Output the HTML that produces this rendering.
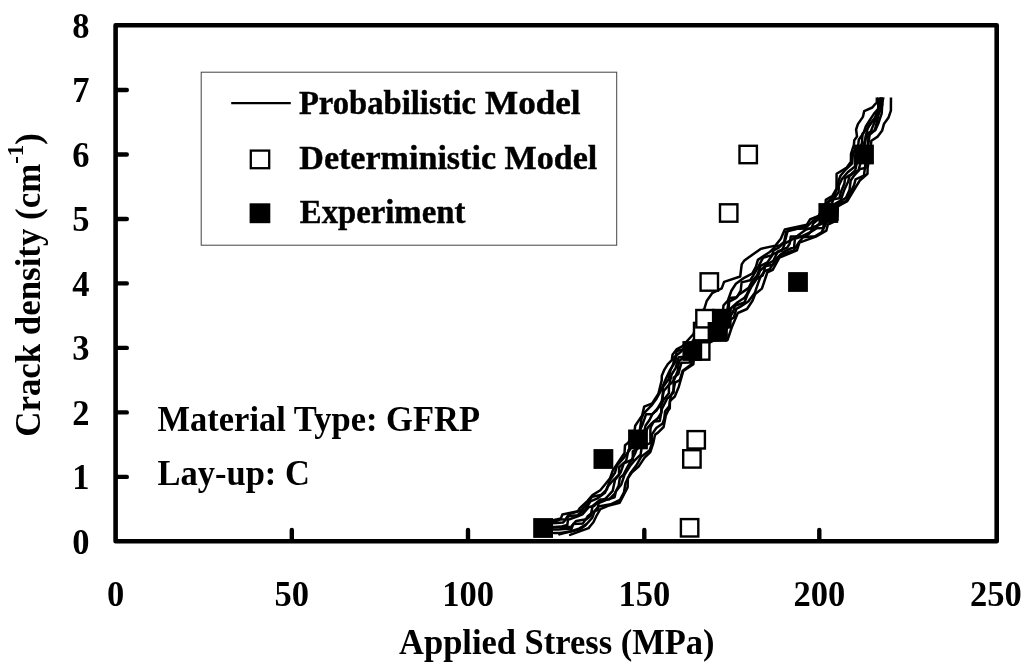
<!DOCTYPE html>
<html><head><meta charset="utf-8"><title>Crack density vs applied stress</title>
<style>
html,body{margin:0;padding:0;background:#fff;}
body{width:1024px;height:669px;overflow:hidden;}
svg{display:block;will-change:transform;filter:grayscale(1);}
text{font-family:"Liberation Serif",serif;font-weight:bold;fill:#000;}
</style></head><body>
<svg width="1024" height="669" viewBox="0 0 1024 669">
<rect x="0" y="0" width="1024" height="669" fill="#fff"/>
<clipPath id="cp"><rect x="540" y="97.6" width="380" height="445"/></clipPath>
<g clip-path="url(#cp)" fill="none" stroke="#000" stroke-width="2.5" stroke-linejoin="round" stroke-linecap="round">
<path d="M548.0 521.0 L553.0 520.3 L560.9 518.4 L562.4 514.5 L577.9 511.1 L579.8 508.2 L587.6 500.9 L592.5 495.1 L600.3 490.2 L604.6 485.0 L610.0 478.3 L612.8 470.5 L624.5 453.0 L625.0 445.3 L628.2 442.8 L634.7 429.7 L635.2 425.8 L642.2 415.4 L644.2 406.6 L652.3 403.3 L658.4 393.8 L661.7 380.4 L661.8 375.7 L664.4 369.6 L667.8 364.2 L671.8 360.2 L672.5 354.8 L676.5 349.4 L682.6 346.1 L688.0 340.0 L693.5 334.0 L697.0 322.0 L701.0 312.0 L704.3 308.8 L706.7 301.0 L712.1 293.2 L721.7 288.4 L724.1 281.9 L740.2 276.5 L741.7 264.4 L744.4 260.4 L760.6 248.9 L775.4 245.6 L780.8 238.8 L784.8 229.4 L806.9 224.7 L809.9 219.5 L818.6 215.8 L825.6 203.0 L825.8 199.8 L832.5 195.7 L836.5 188.6 L836.6 173.8 L846.4 167.9 L850.9 161.7 L851.0 153.8 L853.9 144.8 L854.3 140.2 L857.0 136.6 L856.1 129.5 L857.9 124.1 L862.9 116.9 L864.2 111.1 L872.3 107.5 L875.0 104.3 L876.8 102.6 L876.9 90.0"/>
<path d="M570.1 534.9 L588.6 528.1 L590.5 525.7 L593.4 522.3 L596.4 516.0 L600.3 509.2 L608.0 505.8 L619.7 502.8 L627.6 487.4 L627.9 478.3 L631.8 472.5 L638.6 466.6 L644.4 457.9 L650.3 452.0 L653.2 443.3 L655.1 434.6 L658.0 432.6 L663.6 427.0 L665.8 415.4 L668.0 410.9 L669.8 408.2 L669.9 401.0 L674.8 396.5 L678.8 386.7 L683.3 371.0 L693.4 364.2 L693.6 360.9 L703.0 352.0 L709.0 343.0 L714.0 340.5 L727.5 340.0 L731.7 327.5 L737.8 313.0 L747.0 309.0 L752.5 300.8 L755.2 294.0 L761.9 288.6 L767.3 272.5 L772.7 269.8 L779.4 257.7 L796.9 250.3 L799.4 242.7 L815.9 236.7 L826.3 230.7 L827.8 224.7 L837.5 220.2 L837.7 206.5 L847.3 201.1 L852.7 192.2 L859.8 180.5 L867.5 173.8 L867.6 167.9 L868.2 164.2 L869.5 150.0 L870.9 144.7 L871.4 140.7 L877.7 136.6 L882.2 130.4 L883.9 124.1 L888.4 117.8 L890.9 110.6 L891.0 90.0"/>
<path d="M559.4 534.4 L570.1 531.5 L579.0 528.6 L586.0 524.5"/>
<path d="M548.8 522.8 L551.7 522.8 L559.9 519.5 L565.7 519.2 L568.9 514.1 L580.6 510.8 L587.2 503.8 L592.0 496.9 L601.5 494.7 L606.9 489.4 L609.8 480.2 L615.0 472.7 L616.9 465.8 L623.3 458.4 L628.7 451.3 L633.8 444.1 L636.7 437.3 L639.8 430.5 L641.6 418.3 L643.8 413.3 L651.1 405.9 L656.1 399.3 L659.9 392.5 L662.7 386.2 L666.1 378.3 L670.0 370.1 L675.4 361.8 L676.7 351.0 L687.6 348.2 L693.5 340.0 L698.7 332.8 L707.3 327.8 L710.6 322.6 L720.7 319.0 L722.6 314.1 L723.5 305.3 L727.7 300.9 L731.4 290.7 L735.9 283.7 L743.1 278.4 L752.2 273.6 L755.9 266.8 L757.9 259.9 L764.7 255.3 L769.4 252.3 L775.2 246.6 L780.3 245.3 L785.0 241.1 L787.9 230.0 L796.8 228.8 L806.7 226.8 L812.3 221.4 L820.7 215.4 L825.5 210.3 L826.3 203.0 L834.2 196.0 L837.1 188.0 L838.8 180.0 L840.6 175.5 L846.0 169.3 L852.1 163.7 L853.0 152.5 L858.2 145.4 L858.8 139.8 L863.7 132.6 L865.8 126.5 L870.2 119.5 L873.9 113.9 L878.2 108.9 L878.3 100.3 L878.3 90.2 L879.4 90.0"/>
<path d="M549.2 523.5 L556.1 523.0 L563.2 522.4 L569.0 516.0 L577.3 515.3 L585.1 509.6 L590.5 501.4 L596.9 498.7 L605.0 492.8 L607.3 487.1 L612.2 481.3 L619.0 474.7 L619.1 467.2 L626.1 460.9 L628.5 450.1 L631.5 445.9 L636.1 437.4 L639.4 431.5 L642.4 424.8 L646.1 414.2 L652.4 414.2 L658.9 407.1 L662.5 400.7 L663.0 387.0 L668.4 379.6 L670.6 369.8 L673.3 364.0 L674.3 356.9 L680.7 352.0 L687.2 345.2 L697.1 341.0 L705.1 334.6 L712.8 328.3 L717.1 326.4 L718.2 320.0 L724.1 313.9 L728.6 308.7 L729.4 298.0 L736.9 297.2 L740.7 290.7 L741.6 282.4 L750.2 280.3 L753.2 275.7 L758.4 266.6 L763.0 257.8 L772.0 255.1 L773.6 250.3 L779.1 247.4 L784.0 242.4 L786.2 231.6 L791.4 230.4 L797.0 228.8 L811.4 228.5 L813.2 223.5 L818.0 219.5 L823.7 216.0 L827.3 208.3 L828.7 202.0 L833.2 199.4 L838.6 192.3 L838.8 185.8 L841.7 179.4 L847.7 172.3 L855.0 166.5 L855.1 156.6 L858.8 149.9 L861.9 143.2 L862.6 133.7 L867.9 128.2 L870.0 123.7 L874.6 118.4 L878.8 108.2 L880.4 95.7 L880.4 90.5 L880.6 90.0 L880.8 90.0"/>
<path d="M552.5 527.5 L561.8 526.5 L567.3 525.0 L568.0 519.7 L577.7 516.4 L582.4 514.3 L589.0 506.9 L594.2 505.9 L597.8 502.5 L605.8 498.4 L612.7 490.8 L615.0 479.9 L620.6 472.5 L623.8 463.3 L632.8 459.5 L632.8 451.4 L638.8 447.9 L638.8 439.4 L643.1 435.8 L645.6 425.5 L649.5 420.0 L652.5 413.9 L656.2 410.9 L661.6 401.5 L663.8 391.0 L669.3 384.3 L671.6 374.5 L675.6 368.2 L678.7 357.2 L685.2 356.8 L691.4 348.8 L697.4 344.8 L699.3 339.0 L704.3 336.2 L708.4 331.5 L720.3 331.2 L722.3 324.5 L726.5 319.0 L727.5 308.8 L728.6 301.9 L735.4 298.4 L739.1 294.5 L744.4 290.9 L748.7 287.9 L752.1 281.0 L757.0 275.7 L760.6 265.9 L767.4 262.4 L772.9 254.2 L781.9 250.5 L784.9 243.4 L790.3 240.6 L797.5 235.7 L805.4 229.9 L811.1 228.0 L816.6 225.8 L824.5 220.0 L828.8 216.0 L830.2 208.5 L833.4 199.2 L839.3 198.3 L841.1 191.4 L844.4 183.5 L845.1 178.1 L851.1 174.2 L855.2 170.4 L857.8 158.4 L858.8 148.5 L863.6 144.8 L865.3 139.5 L867.7 127.8 L874.1 119.6 L879.2 111.8 L880.5 104.5 L881.6 93.6 L881.6 90.0 L881.6 90.0"/>
<path d="M551.5 527.1 L559.7 527.1 L571.0 526.9 L576.2 520.9 L586.4 519.3 L590.6 516.0 L592.6 506.0 L600.4 499.5 L609.2 499.3 L614.8 493.5 L618.7 485.6 L619.8 477.8 L623.4 474.9 L627.8 466.4 L632.5 458.5 L635.3 452.9 L639.3 443.1 L643.6 436.8 L647.6 427.9 L651.9 423.2 L657.8 418.3 L661.3 412.6 L661.3 405.5 L663.1 400.5 L668.9 393.3 L668.9 385.3 L673.8 380.7 L677.6 371.2 L679.0 361.3 L684.1 356.8 L691.2 353.1 L694.0 348.1 L699.5 340.6 L709.6 337.5 L718.6 331.8 L724.0 326.3 L729.7 320.3 L730.4 308.8 L737.6 302.3 L744.5 297.8 L746.9 294.1 L750.7 286.0 L755.6 280.1 L758.3 275.2 L760.1 270.6 L766.2 264.9 L773.3 260.9 L777.8 251.4 L787.2 247.7 L789.7 243.7 L790.7 236.6 L801.8 236.6 L808.3 234.5 L813.8 227.7 L823.0 223.1 L830.8 216.7 L832.3 205.4 L840.6 200.5 L844.1 190.3 L848.2 181.5 L849.5 175.9 L853.5 173.2 L858.4 170.6 L861.1 161.0 L863.3 153.4 L864.5 145.9 L866.0 134.6 L870.7 131.6 L874.3 122.8 L877.3 116.5 L880.3 108.0 L880.7 102.4 L881.2 91.7 L881.3 90.0"/>
<path d="M551.6 529.4 L558.3 529.4 L564.1 528.9 L571.5 528.9 L573.2 524.0 L582.8 523.6 L587.8 516.3 L593.0 511.9 L597.6 510.2 L598.6 503.2 L605.8 500.1 L614.6 497.3 L615.8 491.4 L621.3 484.4 L624.6 474.6 L630.2 465.8 L633.9 461.2 L640.6 454.6 L641.8 446.7 L650.4 443.2 L650.4 429.3 L651.1 426.3 L653.8 421.4 L659.8 420.9 L661.9 409.0 L666.8 399.1 L673.6 392.7 L673.6 377.8 L678.3 374.1 L681.4 362.7 L689.8 362.5 L690.4 356.0 L696.3 353.0 L701.3 343.5 L709.7 339.3 L719.8 335.9 L725.4 327.2 L728.0 320.1 L733.0 312.0 L735.1 305.7 L744.4 302.5 L747.9 293.6 L751.4 286.7 L756.3 279.2 L762.7 275.5 L765.4 266.1 L772.5 265.0 L777.2 257.9 L784.4 251.3 L794.1 247.0 L794.9 238.8 L800.0 237.1 L810.0 232.5 L816.8 228.3 L823.2 228.0 L824.2 220.8 L830.4 219.6 L832.4 210.3 L836.5 206.4 L839.8 201.7 L845.9 197.9 L849.5 190.1 L850.7 180.5 L853.8 176.0 L860.1 168.9 L865.5 168.1 L866.1 160.8 L866.1 153.0 L867.7 147.7 L867.9 136.3 L874.7 130.3 L876.7 123.2 L878.4 114.9 L882.2 105.2 L882.4 92.9 L883.0 90.0 L883.0 90.0"/>
<path d="M553.8 532.9 L560.0 532.9 L571.0 531.6 L580.3 529.2 L584.9 525.8 L592.1 518.0 L594.8 510.8 L598.4 506.5 L610.6 504.3 L620.0 499.9 L624.0 492.3 L625.5 483.0 L630.3 473.3 L636.6 465.1 L641.2 456.7 L649.7 450.2 L651.9 443.7 L651.9 434.4 L656.3 428.0 L662.6 423.6 L664.2 418.9 L665.1 411.3 L669.2 406.3 L671.0 395.4 L673.4 390.8 L675.0 382.7 L679.8 380.1 L682.7 370.7 L691.2 364.4 L692.4 356.3 L698.2 353.3 L703.6 347.9 L708.0 343.1 L712.4 338.9 L726.5 338.9 L726.5 330.4 L729.6 320.2 L733.9 317.4 L736.3 308.9 L740.4 306.6 L748.3 301.5 L754.7 293.1 L758.5 282.1 L760.6 276.6 L765.0 271.0 L769.8 269.3 L772.2 264.9 L776.7 261.2 L780.1 254.9 L784.9 253.3 L793.7 250.4 L799.3 241.8 L803.0 237.3 L814.9 236.3 L821.6 232.4 L825.2 225.1 L828.0 220.4 L836.9 217.5 L838.1 204.5 L846.3 200.8 L850.7 191.9 L854.0 185.4 L855.6 179.4 L863.9 175.6 L865.2 166.0 L866.6 158.2 L868.1 146.5 L869.7 133.5 L875.3 130.2 L878.3 123.5 L881.7 113.4 L882.3 102.5 L884.2 93.6 L884.2 90.0"/>
</g>
<rect x="680.9" y="519.1" width="17.4" height="17.4" fill="#fff" stroke="#000" stroke-width="2.4"/>
<rect x="683.2" y="450.2" width="17.4" height="17.4" fill="#fff" stroke="#000" stroke-width="2.4"/>
<rect x="687.5" y="431.1" width="17.4" height="17.4" fill="#fff" stroke="#000" stroke-width="2.4"/>
<rect x="692.0" y="342.3" width="17.4" height="17.4" fill="#fff" stroke="#000" stroke-width="2.4"/>
<rect x="694.0" y="322.9" width="17.4" height="17.4" fill="#fff" stroke="#000" stroke-width="2.4"/>
<rect x="696.3" y="310.0" width="17.4" height="17.4" fill="#fff" stroke="#000" stroke-width="2.4"/>
<rect x="700.6" y="273.3" width="17.4" height="17.4" fill="#fff" stroke="#000" stroke-width="2.4"/>
<rect x="720.0" y="204.3" width="17.4" height="17.4" fill="#fff" stroke="#000" stroke-width="2.4"/>
<rect x="739.5" y="145.8" width="17.4" height="17.4" fill="#fff" stroke="#000" stroke-width="2.4"/>
<rect x="533.2" y="518.1" width="19.8" height="19.8" fill="#000"/>
<rect x="593.5" y="449.1" width="19.8" height="19.8" fill="#000"/>
<rect x="628.1" y="429.5" width="19.8" height="19.8" fill="#000"/>
<rect x="682.4" y="341.1" width="19.8" height="19.8" fill="#000"/>
<rect x="707.6" y="322.0" width="19.8" height="19.8" fill="#000"/>
<rect x="711.9" y="308.8" width="19.8" height="19.8" fill="#000"/>
<rect x="788.1" y="272.1" width="19.8" height="19.8" fill="#000"/>
<rect x="818.4" y="203.1" width="19.8" height="19.8" fill="#000"/>
<rect x="854.1" y="144.6" width="19.8" height="19.8" fill="#000"/>
<g fill="none" stroke="#000" stroke-linecap="round" stroke-linejoin="round">
<rect x="115.6" y="25.3" width="881.1" height="515.9" stroke-width="4.6"/>
<line x1="116.6" y1="476.9" x2="126.8" y2="476.9" stroke-width="4.4"/>
<line x1="116.6" y1="412.4" x2="126.8" y2="412.4" stroke-width="4.4"/>
<line x1="116.6" y1="347.9" x2="126.8" y2="347.9" stroke-width="4.4"/>
<line x1="116.6" y1="283.4" x2="126.8" y2="283.4" stroke-width="4.4"/>
<line x1="116.6" y1="219.0" x2="126.8" y2="219.0" stroke-width="4.4"/>
<line x1="116.6" y1="154.5" x2="126.8" y2="154.5" stroke-width="4.4"/>
<line x1="116.6" y1="90.0" x2="126.8" y2="90.0" stroke-width="4.4"/>
<line x1="291.8" y1="540.2" x2="291.8" y2="529.9" stroke-width="4.4"/>
<line x1="468.0" y1="540.2" x2="468.0" y2="529.9" stroke-width="4.4"/>
<line x1="644.3" y1="540.2" x2="644.3" y2="529.9" stroke-width="4.4"/>
<line x1="819.3" y1="540.2" x2="819.3" y2="529.9" stroke-width="4.4"/>
</g>
<text transform="translate(80.9 553.7) scale(0.9691 1)" font-size="35.6" text-anchor="middle">0</text>
<text transform="translate(80.9 489.2) scale(0.9691 1)" font-size="35.6" text-anchor="middle">1</text>
<text transform="translate(80.9 424.7) scale(0.9691 1)" font-size="35.6" text-anchor="middle">2</text>
<text transform="translate(80.9 360.2) scale(0.9691 1)" font-size="35.6" text-anchor="middle">3</text>
<text transform="translate(80.9 295.8) scale(0.9691 1)" font-size="35.6" text-anchor="middle">4</text>
<text transform="translate(80.9 231.3) scale(0.9691 1)" font-size="35.6" text-anchor="middle">5</text>
<text transform="translate(80.9 166.8) scale(0.9691 1)" font-size="35.6" text-anchor="middle">6</text>
<text transform="translate(80.9 102.3) scale(0.9691 1)" font-size="35.6" text-anchor="middle">7</text>
<text transform="translate(80.9 37.8) scale(0.9691 1)" font-size="35.6" text-anchor="middle">8</text>
<text transform="translate(115.6 605.7) scale(0.9691 1)" font-size="35.6" text-anchor="middle">0</text>
<text transform="translate(291.8 605.7) scale(0.9691 1)" font-size="35.6" text-anchor="middle">50</text>
<text transform="translate(468.0 605.7) scale(0.9691 1)" font-size="35.6" text-anchor="middle">100</text>
<text transform="translate(644.3 605.7) scale(0.9691 1)" font-size="35.6" text-anchor="middle">150</text>
<text transform="translate(819.3 605.7) scale(0.9691 1)" font-size="35.6" text-anchor="middle">200</text>
<text transform="translate(995.9 605.7) scale(0.9691 1)" font-size="35.6" text-anchor="middle">250</text>
<text transform="translate(556.8 653.5) scale(0.9691 1)" font-size="35.6" text-anchor="middle">Applied Stress (MPa)</text>
<text transform="translate(39.5 284.9) rotate(-90) scale(0.979 1)" font-size="35.6" text-anchor="middle">Crack density (cm<tspan font-size="23.5" dy="-17">-1</tspan><tspan dy="17">)</tspan></text>
<text transform="translate(157.5 431.4) scale(0.9691 1)" font-size="35.6" text-anchor="start">Material Type: GFRP</text>
<text transform="translate(157.5 485.2) scale(0.9691 1)" font-size="35.6" text-anchor="start">Lay-up: C</text>
<rect x="201.2" y="72.2" width="415.5" height="173" fill="#fff" stroke="#444" stroke-width="1"/>
<line x1="231.2" y1="103.1" x2="290.8" y2="103.1" stroke="#000" stroke-width="2.3"/>
<rect x="250.8" y="150.6" width="18.4" height="17.6" fill="#fff" stroke="#000" stroke-width="2.3"/>
<rect x="249.6" y="203.3" width="20.7" height="19.9" fill="#000"/>
<text x="298.9" y="113.5" font-size="34.4" textLength="177.2" lengthAdjust="spacingAndGlyphs" stroke="#000" stroke-width="0.45">Probabilistic</text>
<text x="485.0" y="113.5" font-size="34.4" textLength="95.6" lengthAdjust="spacingAndGlyphs" stroke="#000" stroke-width="0.45">Model</text>
<text x="299.3" y="168.7" font-size="34.4" textLength="298.0" lengthAdjust="spacingAndGlyphs" stroke="#000" stroke-width="0.45">Deterministic Model</text>
<text x="299.8" y="223.3" font-size="34.4" textLength="165.5" lengthAdjust="spacingAndGlyphs" stroke="#000" stroke-width="0.45">Experiment</text>
</svg>
</body></html>
